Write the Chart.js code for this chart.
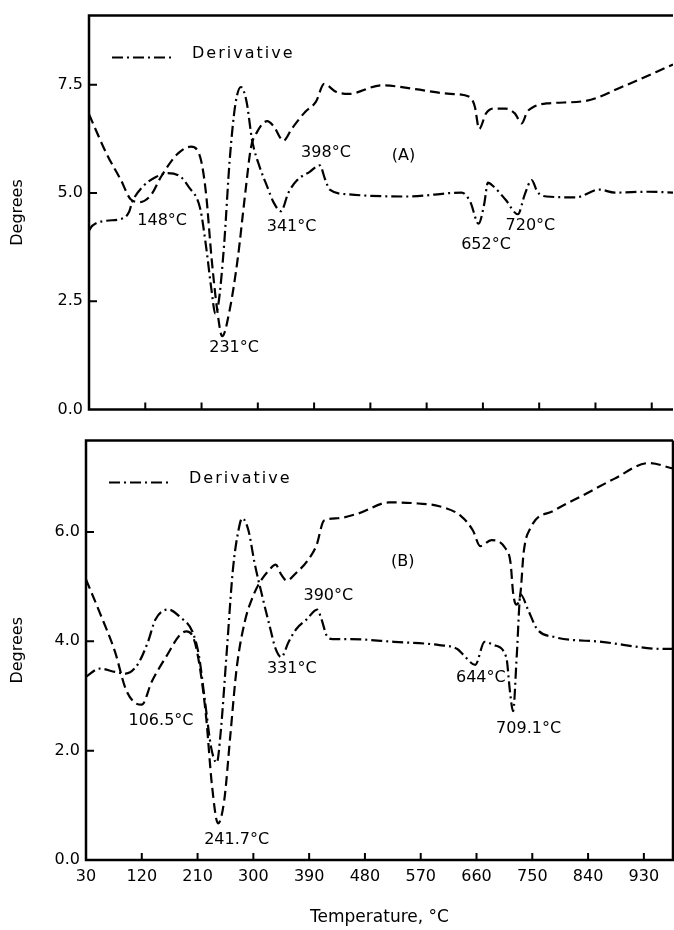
<!DOCTYPE html>
<html>
<head>
<meta charset="utf-8">
<script src="https://cdn.jsdelivr.net/npm/chart.js@4.4.1/dist/chart.umd.min.js"></script>
<style>
  body { margin: 0; background: #fff; }
  #wrap { position: relative; width: 674px; height: 930px; }
  canvas { position: absolute; left: 0; }
</style>
</head>
<body>
<div id="wrap">
  <canvas id="chartA" width="674" height="425" style="top:0"></canvas>
  <canvas id="chartB" width="674" height="505" style="top:425px"></canvas>
</div>
<script>
// ---- data (temperature in °C, value in degrees) ----
const xTicks = [30, 120, 210, 300, 390, 480, 570, 660, 750, 840, 930];
const yTicksA = [0, 2.5, 5.0, 7.5];
const yTicksB = [0, 2.0, 4.0, 6.0];

// panel A, dashed curve
const tempA = [30,58,81,97,111,130,145,172,193,208,217,226,235,243,255,268,280,289,298,315,325,341,354,376,393,406,425,445,498,552,608,639,647,654,665,676,696,711,722,731,742,762,825,882,964];
const valA  = [6.82,5.91,5.30,4.85,4.79,4.97,5.37,5.91,6.07,5.82,5.01,3.50,2.30,1.69,2.30,3.50,5.01,6.05,6.39,6.66,6.55,6.21,6.48,6.88,7.11,7.52,7.34,7.29,7.49,7.40,7.29,7.22,7.00,6.48,6.84,6.95,6.95,6.84,6.61,6.88,7.00,7.07,7.13,7.45,7.97];
// panel A, derivative (dash-dot)
const tempADer = [30,35,58,81,94,99,116,137,156,177,189,208,217,226,232,237,246,255,264,273,282,291,303,315,325,337,349,363,383,399,408,415,445,539,626,640,653,662,668,677,696,716,727,738,747,762,809,846,871,924,964];
const valADer  = [4.13,4.24,4.36,4.40,4.56,4.79,5.15,5.37,5.46,5.37,5.15,4.63,3.79,2.75,2.21,2.44,3.79,5.76,7.04,7.45,7.11,6.21,5.60,5.15,4.79,4.58,5.01,5.30,5.49,5.64,5.30,5.08,4.97,4.92,5.01,4.79,4.29,4.74,5.24,5.15,4.85,4.51,4.97,5.30,5.03,4.92,4.90,5.08,5.01,5.03,5.01];

// panel B, dashed curve
const tempB = [30,52,77,94,111,120,136,161,181,192,204,214,224,233,243,253,263,273,286,300,310,326,336,345,354,369,387,402,414,436,470,519,566,600,635,654,666,684,706,715,719,724,731,736,747,785,832,882,938,977];
const valB  = [5.13,4.53,3.80,3.13,2.86,2.84,3.26,3.75,4.11,4.18,4.04,3.50,2.59,1.39,0.67,1.09,2.30,3.50,4.35,4.84,5.07,5.31,5.40,5.22,5.11,5.25,5.47,5.76,6.21,6.25,6.34,6.54,6.52,6.47,6.29,6.03,5.74,5.85,5.71,5.43,4.89,4.67,4.89,5.62,6.07,6.39,6.67,6.97,7.26,7.16];
// panel B, derivative (dash-dot)
const tempBDer = [30,52,77,94,113,130,142,163,182,202,212,222,232,241,247,257,267,276,282,292,302,314,326,336,345,357,369,386,403,410,418,428,455,527,600,629,639,658,673,688,708,714,719,725,731,743,758,785,862,961,977];
const valBDer  = [3.35,3.50,3.44,3.41,3.57,3.99,4.40,4.58,4.44,4.17,3.75,2.90,2.05,1.78,2.30,3.80,5.31,6.03,6.25,6.03,5.43,4.84,4.29,3.86,3.71,3.99,4.22,4.40,4.58,4.40,4.11,4.04,4.04,3.99,3.93,3.86,3.75,3.57,3.99,3.93,3.71,3.08,2.72,3.75,4.86,4.58,4.22,4.08,3.99,3.86,3.86];

// peak annotations
const peakTextA = ['148°C', '231°C', '341°C', '398°C', '(A)', '652°C', '720°C'];
const peakTempA = [147, 262, 354, 409, 533, 665, 736];
const peakValA  = [4.36, 1.42, 4.22, 5.94, 5.87, 3.81, 4.24];
const peakTextB = ['106.5°C', '241.7°C', '331°C', '390°C', '(B)', '644°C', '709.1°C'];
const peakTempB = [151, 273, 362, 421, 541, 667, 744];
const peakValB  = [2.54, 0.36, 3.50, 4.84, 5.45, 3.33, 2.39];

const FONT = '"DejaVu Sans", sans-serif';
const dashed = [10, 5];
const dashDot = [11, 4, 2, 4];

// frame, inward tick marks, peak labels and the in-plot legend
const framePlugin = {
  id: 'frame',
  afterDatasetsDraw(chart, args, opts) {
    const { ctx, chartArea: a, scales: { x, y } } = chart;
    ctx.save();
    ctx.strokeStyle = '#000';
    ctx.lineWidth = 2.5;
    ctx.beginPath();
    ctx.moveTo(a.right, a.top);
    ctx.lineTo(a.left, a.top);
    ctx.lineTo(a.left, a.bottom);
    ctx.lineTo(a.right, a.bottom);
    if (opts.rightEdge) ctx.lineTo(a.right, a.top);
    ctx.stroke();

    ctx.lineWidth = 2;
    ctx.beginPath();
    x.ticks.forEach(t => {
      const px = x.getPixelForValue(t.value);
      if (px <= a.left + 2) return;
      ctx.moveTo(px, a.bottom);
      ctx.lineTo(px, a.bottom - 7);
    });
    y.ticks.forEach(t => {
      const py = y.getPixelForValue(t.value);
      if (py >= a.bottom - 2) return;
      ctx.moveTo(a.left, py);
      ctx.lineTo(a.left + 8, py);
    });
    ctx.stroke();

    ctx.fillStyle = '#000';
    ctx.font = '16px ' + FONT;
    ctx.textAlign = 'center';
    ctx.textBaseline = 'middle';
    opts.text.forEach((s, i) => {
      ctx.fillText(s, x.getPixelForValue(opts.temps[i]), y.getPixelForValue(opts.vals[i]));
    });

    // legend
    const lx = a.left + 23, ly = a.top + 42;
    ctx.setLineDash(dashDot);
    ctx.beginPath();
    ctx.moveTo(lx, ly);
    ctx.lineTo(lx + 62, ly);
    ctx.stroke();
    ctx.setLineDash([]);
    ctx.textAlign = 'left';
    ctx.letterSpacing = '2px';
    ctx.fillText('Derivative', lx + 80, ly - 4);
    ctx.restore();
  }
};

function series(xs, ys, dash) {
  return {
    data: xs.map((t, i) => ({ x: t, y: ys[i] })),
    borderColor: '#000',
    borderWidth: 2.2,
    borderDash: dash,
    pointRadius: 0,
    fill: false,
    cubicInterpolationMode: 'monotone'
  };
}

function makeChart(id, cfg) {
  return new Chart(document.getElementById(id), {
    type: 'line',
    data: { datasets: [series(cfg.t, cfg.v, dashed), series(cfg.td, cfg.vd, dashDot)] },
    plugins: [framePlugin],
    options: {
      responsive: false,
      animation: false,
      layout: { padding: { top: cfg.padTop, right: 1, left: 0, bottom: 0 } },
      plugins: {
        legend: { display: false },
        tooltip: { enabled: false },
        frame: { rightEdge: cfg.rightEdge, text: cfg.labels, temps: cfg.labelT, vals: cfg.labelV }
      },
      scales: {
        x: {
          type: 'linear',
          min: 30,
          max: cfg.xMax,
          afterBuildTicks: s => { s.ticks = xTicks.map(v => ({ value: v })); },
          afterFit: s => { s.height = cfg.xHeight; },
          grid: { display: false, drawTicks: false },
          border: { display: false },
          ticks: {
            display: cfg.showX, padding: 7, color: '#000', maxRotation: 0, autoSkip: false,
            font: { family: FONT, size: 16 }
          },
          title: {
            display: cfg.showX, text: 'Temperature, °C', color: '#000',
            font: { family: FONT, size: 17 }, padding: { top: 0, bottom: 2 }
          }
        },
        y: {
          min: 0,
          max: cfg.yMax,
          afterBuildTicks: s => { s.ticks = cfg.yTicks.map(v => ({ value: v })); },
          afterFit: s => { s.width = cfg.yWidth; },
          grid: { display: false, drawTicks: false },
          border: { display: false },
          ticks: {
            padding: 6, color: '#000', font: { family: FONT, size: 16 },
            callback: v => v.toFixed(1)
          },
          title: {
            display: true, text: 'Degrees', color: '#000',
            font: { family: FONT, size: 16 }, padding: { top: 8, bottom: 0 }
          }
        }
      }
    }
  });
}

makeChart('chartA', {
  t: tempA, v: valA, td: tempADer, vd: valADer,
  labels: peakTextA, labelT: peakTempA, labelV: peakValA,
  yTicks: yTicksA, yMax: 9.1, xMax: 964,
  padTop: 13, xHeight: 9, yWidth: 89, showX: false, rightEdge: false
});

makeChart('chartB', {
  t: tempB, v: valB, td: tempBDer, vd: valBDer,
  labels: peakTextB, labelT: peakTempB, labelV: peakValB,
  yTicks: yTicksB, yMax: 7.67, xMax: 977,
  padTop: 12, xHeight: 70, yWidth: 86, showX: true, rightEdge: true
});
</script>
</body>
</html>
